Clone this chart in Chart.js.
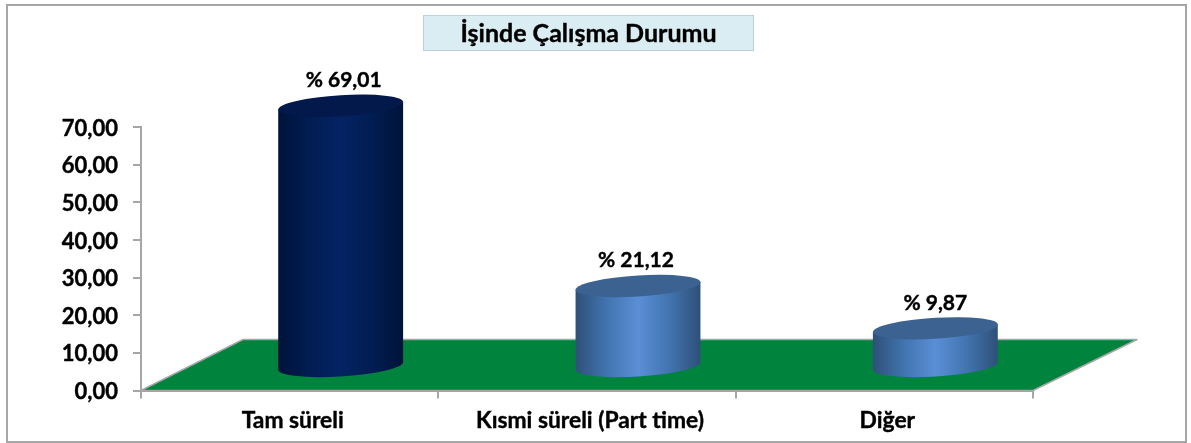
<!DOCTYPE html>
<html lang="tr">
<head>
<meta charset="utf-8">
<style>
html,body{margin:0;padding:0;background:#fff;}
canvas{display:block;}
</style>
<script src="https://cdn.jsdelivr.net/npm/chart.js@4"></script>
</head>
<body>
<canvas id="c" width="1191" height="443"></canvas>
<script>
const chartTitle = 'İşinde Çalışma Durumu';
const categories = ['Tam süreli', 'Kısmi süreli (Part time)', 'Diğer'];
const percentages = [69.01, 21.12, 9.87];
const FONT = 'Lato, "Open Sans", sans-serif';

const sideStops = [
  ['#00133a', '#011d52', '#042363', '#011d52', '#00133a'],
  ['#2e5078', '#4274b0', '#5a8fd6', '#4274b0', '#2e5078'],
  ['#2e5078', '#4274b0', '#5a8fd6', '#4274b0', '#2e5078']
];
const topColors = ['#03194b', '#3b6290', '#3b6290'];
const labelNudge = [3, -2, 0];

const DEPTH_X = 102, DEPTH_Y = 51, BAR_SHIFT_X = 51;
const TOP_LIFT = 25, BASE_LIFT = 23.5, RY = 10.5, SHEAR = 0.06;

function heavyText(ctx, text, x, y, w) {
  ctx.lineWidth = w;
  ctx.strokeStyle = '#000';
  ctx.lineJoin = 'round';
  ctx.strokeText(text, x, y);
  ctx.fillText(text, x, y);
}

const scene = {
  id: 'scene',
  beforeDraw(chart) {
    const { ctx, scales: { x, y } } = chart;
    const left = x.left, right = x.right, bottom = y.bottom;
    ctx.save();
    ctx.fillStyle = '#fff';
    ctx.fillRect(0, 0, chart.width, chart.height);
    ctx.strokeStyle = '#a6a6a6';
    ctx.lineWidth = 2;
    ctx.strokeRect(7, 5, 1179, 437);

    ctx.fillStyle = '#daedf3';
    ctx.fillRect(423.5, 15.5, 330, 35);
    ctx.strokeStyle = '#bcd0d8';
    ctx.lineWidth = 1;
    ctx.strokeRect(423.5, 15.5, 330, 35);
    ctx.fillStyle = '#000';
    ctx.font = 'bold 25px ' + FONT;
    ctx.textAlign = 'center';
    ctx.textBaseline = 'middle';
    heavyText(ctx, chartTitle, 588.5, 33.5, 0.4);

    ctx.beginPath();
    ctx.moveTo(left, bottom);
    ctx.lineTo(left + DEPTH_X, bottom - DEPTH_Y);
    ctx.lineTo(right + DEPTH_X + 2, bottom - DEPTH_Y);
    ctx.lineTo(right, bottom);
    ctx.closePath();
    ctx.fillStyle = '#00843d';
    ctx.fill();
    ctx.strokeStyle = '#a6a6a6';
    ctx.lineWidth = 1.5;
    ctx.stroke();
    ctx.restore();
  },
  beforeDatasetDraw(chart, args) {
    const { ctx } = chart;
    const meta = args.meta;
    meta.data.forEach((bar, i) => {
      const cx = bar.x + BAR_SHIFT_X;
      const rx = bar.width / 2;
      const yt = bar.y - TOP_LIFT;
      const yb = bar.base - BASE_LIFT;
      const grad = ctx.createLinearGradient(cx - rx, 0, cx + rx, 0);
      sideStops[i].forEach((c, k) => grad.addColorStop(k / 4, c));
      ctx.save();
      ctx.transform(1, -SHEAR, 0, 1, 0, SHEAR * cx);
      ctx.beginPath();
      ctx.moveTo(cx - rx, yt);
      ctx.lineTo(cx - rx, yb);
      ctx.ellipse(cx, yb, rx, RY, 0, Math.PI, 0, true);
      ctx.lineTo(cx + rx, yt);
      ctx.closePath();
      ctx.fillStyle = grad;
      ctx.fill();
      ctx.beginPath();
      ctx.ellipse(cx, yt, rx, RY, 0, 0, Math.PI * 2);
      ctx.fillStyle = topColors[i];
      ctx.fill();
      ctx.restore();

      ctx.save();
      ctx.fillStyle = '#000';
      ctx.font = 'bold 21px ' + FONT;
      ctx.textAlign = 'center';
      ctx.textBaseline = 'middle';
      heavyText(ctx, '% ' + percentages[i].toFixed(2).replace('.', ','), cx + labelNudge[i], yt - 25.5, 0.4);
      ctx.restore();
    });
    return false;
  }
};

new Chart(document.getElementById('c'), {
  type: 'bar',
  data: {
    labels: categories,
    datasets: [{
      label: chartTitle,
      data: percentages,
      backgroundColor: '#042363',
      categoryPercentage: 1,
      barPercentage: 0.42
    }]
  },
  plugins: [scene],
  options: {
    responsive: false,
    animation: false,
    layout: { padding: { left: 0, right: 158, top: 127, bottom: 0 } },
    plugins: { legend: { display: false }, tooltip: { enabled: false }, title: { display: false } },
    scales: {
      x: {
        afterFit(s) { s.height = 52.5; },
        border: { color: '#a6a6a6', width: 2 },
        grid: { drawOnChartArea: false, color: '#a6a6a6', lineWidth: 2, tickLength: 8, offset: true },
        ticks: { color: '#000', font: { family: FONT, size: 22.8, weight: 'bold' }, padding: 8, maxRotation: 0, autoSkip: false, labelOffset: 3, textStrokeColor: '#000', textStrokeWidth: 0.4 }
      },
      y: {
        min: 0,
        max: 70,
        afterFit(s) { s.width = 141; },
        border: { color: '#a6a6a6', width: 2 },
        grid: { drawOnChartArea: false, color: '#a6a6a6', lineWidth: 2, tickLength: 8 },
        ticks: {
          stepSize: 10,
          color: '#000',
          padding: 15,
          labelOffset: 1.5,
          textStrokeColor: '#000',
          textStrokeWidth: 0.4,
          font: { family: FONT, size: 22, weight: 'bold' },
          callback: v => Number(v).toFixed(2).replace('.', ',')
        }
      }
    }
  }
});
</script>
</body>
</html>
